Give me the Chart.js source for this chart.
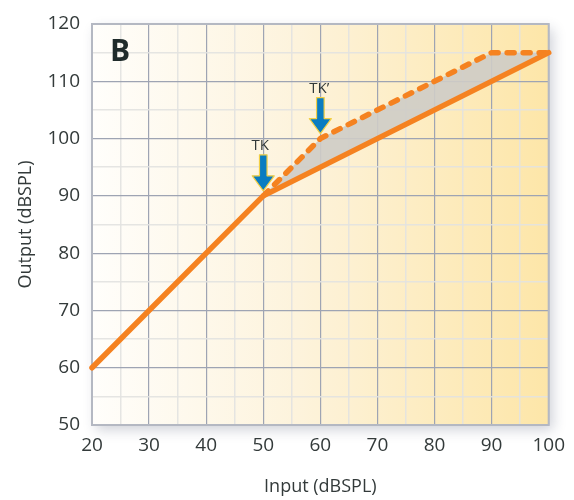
<!DOCTYPE html>
<html>
<head>
<meta charset="utf-8">
<script src="https://cdn.jsdelivr.net/npm/chart.js@4"></script>
<style>
html,body{margin:0;padding:0;background:#fff;}
#wrap{width:574px;height:500px;}
</style>
</head>
<body>
<div id="wrap"><canvas id="c" width="574" height="500"></canvas></div>
<script>
// ---- data ----
const xRange = [20, 100];
const yRange = [50, 120];
const linearInput = [20, 50, 100];
const linearOutput = [60, 90, 115];
const compInput = [50, 60, 90, 100];
const compOutput = [90, 100, 115, 115];
const kneeInput = [50, 60];
const kneeOutput = [90, 100];
const kneeLabels = ['TK', 'TK\u2019'];
const panelLabel = 'B';
const xTitle = 'Input (dBSPL)';
const yTitle = 'Output (dBSPL)';

const ORANGE = '#f58220';
const FONT = '"Open Sans", "DejaVu Sans", sans-serif';
const TXT = '#333a3a';

const toPts = (xs, ys) => xs.map((x, i) => ({x: x, y: ys[i]}));

const bgPlugin = {
  id: 'bg',
  beforeDraw(chart) {
    const {ctx, chartArea: a} = chart;
    ctx.save();
    ctx.shadowColor = 'rgba(40,50,80,0.22)';
    ctx.shadowBlur = 12;
    ctx.shadowOffsetX = 4;
    ctx.shadowOffsetY = 5;
    ctx.fillStyle = '#fff';
    ctx.fillRect(a.left, a.top, a.width, a.height);
    ctx.restore();
    ctx.save();
    const g = ctx.createLinearGradient(a.left, 0, a.right, 0);
    g.addColorStop(0, '#fffefb');
    g.addColorStop(0.45, '#fdf3dc');
    g.addColorStop(1, '#fde6a8');
    ctx.fillStyle = g;
    ctx.fillRect(a.left, a.top, a.width, a.height);
    ctx.restore();
  },
  beforeDatasetsDraw(chart) {
    const {ctx, chartArea: a} = chart;
    ctx.save();
    ctx.strokeStyle = '#b4b8c2';
    ctx.lineWidth = 2;
    ctx.strokeRect(a.left, a.top, a.width, a.height);
    ctx.restore();
  },
  afterDatasetsDraw(chart) {
    const {ctx, chartArea: a, scales} = chart;
    ctx.save();
    kneeInput.forEach((xv, i) => {
      const px = scales.x.getPixelForValue(xv);
      const py = scales.y.getPixelForValue(kneeOutput[i]) - 5;
      const headH = 15, headW = 11, shaftW = 3.8, shaftH = 21;
      ctx.beginPath();
      ctx.moveTo(px, py);
      ctx.lineTo(px - headW, py - headH);
      ctx.lineTo(px - shaftW, py - headH);
      ctx.lineTo(px - shaftW, py - headH - shaftH);
      ctx.lineTo(px + shaftW, py - headH - shaftH);
      ctx.lineTo(px + shaftW, py - headH);
      ctx.lineTo(px + headW, py - headH);
      ctx.closePath();
      ctx.fillStyle = '#0a7cc1';
      ctx.strokeStyle = '#f3cf45';
      ctx.lineWidth = 1.2;
      ctx.lineJoin = 'round';
      ctx.fill();
      ctx.stroke();
      ctx.fillStyle = TXT;
      ctx.font = '15px ' + FONT;
      ctx.textAlign = 'center';
      ctx.textBaseline = 'alphabetic';
      ctx.fillText(kneeLabels[i], px - 3 + i * 2, py - headH - shaftH - 5);
    });
    ctx.fillStyle = '#1f2b2b';
    ctx.font = 'bold 30px ' + FONT;
    ctx.textAlign = 'center';
    ctx.textBaseline = 'middle';
    ctx.fillText(panelLabel, a.left + 28, a.top + 28);
    ctx.restore();
  }
};

const gridColor = (ctx) => (ctx.tick && ctx.tick.value % 10 === 0) ? '#9ea4b3' : 'rgba(226,226,224,0.9)';
const gridWidth = (ctx) => (ctx.tick && ctx.tick.value % 10 === 0) ? 1.2 : 1.5;

new Chart(document.getElementById('c'), {
  type: 'line',
  data: {
    datasets: [
      {
        data: toPts(linearInput, linearOutput),
        borderColor: ORANGE,
        borderWidth: 5.5,
        borderCapStyle: 'round',
        borderJoinStyle: 'round',
        pointRadius: 0,
        fill: false,
        clip: false,
        tension: 0
      },
      {
        data: toPts(compInput, compOutput),
        borderColor: ORANGE,
        borderWidth: 5.5,
        borderDash: [7, 9],
        borderCapStyle: 'round',
        borderJoinStyle: 'round',
        pointRadius: 0,
        fill: {target: 0},
        backgroundColor: 'rgba(206,204,198,0.9)',
        clip: false,
        tension: 0
      }
    ]
  },
  options: {
    responsive: false,
    animation: false,
    layout: {padding: {left: 0, right: 24, top: 24, bottom: 0}},
    plugins: {legend: {display: false}, tooltip: {enabled: false}},
    scales: {
      x: {
        type: 'linear',
        min: xRange[0], max: xRange[1],
        afterFit(s) { s.height = 75; },
        border: {display: false},
        grid: {color: gridColor, lineWidth: gridWidth, drawTicks: false},
        ticks: {
          stepSize: 5, padding: 9, maxRotation: 0, autoSkip: false,
          color: TXT, font: {size: 19, family: FONT},
          callback: (v) => v % 10 === 0 ? String(v) : ''
        },
        title: {display: true, text: xTitle, color: TXT, font: {size: 18, family: FONT}, padding: {top: 0, bottom: 2}}
      },
      y: {
        type: 'linear',
        min: yRange[0], max: yRange[1],
        afterFit(s) { s.width = 92; },
        border: {display: false},
        grid: {color: gridColor, lineWidth: gridWidth, drawTicks: false},
        ticks: {
          stepSize: 5, padding: 12, autoSkip: false,
          color: TXT, font: {size: 19, family: FONT},
          callback: (v) => v % 10 === 0 ? String(v) : ''
        },
        title: {display: true, text: yTitle, color: TXT, font: {size: 18, family: FONT}, padding: {top: 15, bottom: 0}}
      }
    }
  },
  plugins: [bgPlugin]
});
</script>
</body>
</html>
